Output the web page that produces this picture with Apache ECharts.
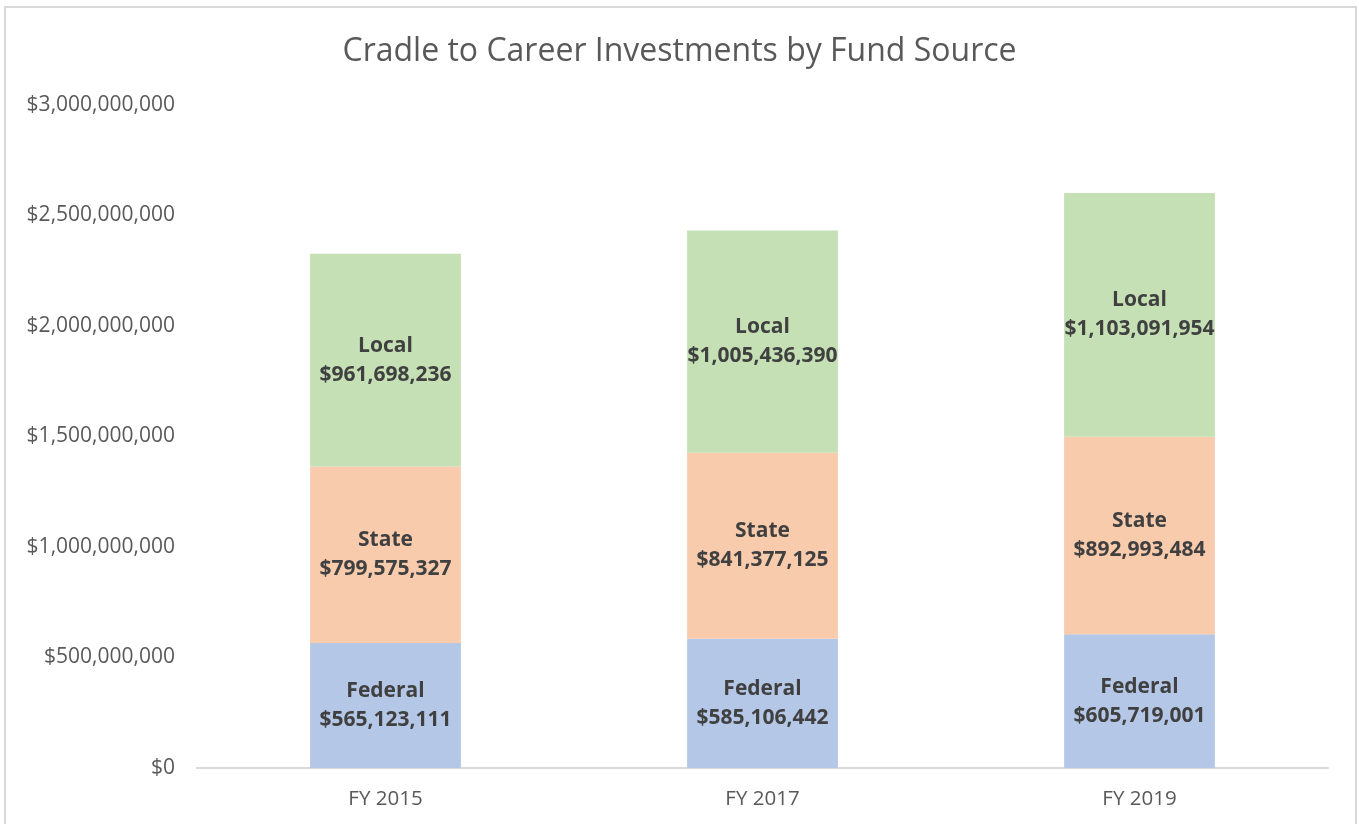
<!DOCTYPE html>
<html>
<head>
<meta charset="utf-8">
<script src="https://cdn.jsdelivr.net/npm/echarts@6/dist/echarts.min.js"></script>
<style>
  html, body { margin: 0; padding: 0; background: #fff; }
  #chart { width: 1359px; height: 824px; }
</style>
</head>
<body>
<div id="chart"></div>
<script>
const years = ["FY 2015", "FY 2017", "FY 2019"];
const federal = [565123111, 585106442, 605719001];
const state = [799575327, 841377125, 892993484];
const local = [961698236, 1005436390, 1103091954];

const FONT = "'Open Sans', 'Noto Sans', sans-serif";
const money = (v) => "$" + Math.round(v).toLocaleString("en-US");

const chart = echarts.init(document.getElementById("chart"));

const makeSeries = (name, data, color) => ({
  name: name,
  type: "bar",
  stack: "total",
  data: data,
  barCategoryGap: "60%",
  itemStyle: { color: color },
  label: {
    show: true,
    position: "inside",
    formatter: (p) => name + "\n" + money(p.value),
    color: "#404040",
    fontFamily: FONT,
    fontWeight: "bold",
    fontSize: 21,
    lineHeight: 29,
  },
});

chart.setOption({
  animation: false,
  title: {
    text: "Cradle to Career Investments by Fund Source",
    left: "center",
    top: 31,
    textStyle: {
      fontSize: 32,
      color: "#595959",
      fontWeight: "normal",
      fontFamily: FONT,
    },
  },
  graphic: [
    {
      type: "rect",
      shape: { x: 5, y: 7, width: 1351, height: 830 },
      style: { fill: "none", stroke: "#d9d9d9", lineWidth: 2 },
      silent: true,
    },
  ],
  grid: { left: 197, right: 31, top: 105, bottom: 56 },
  xAxis: {
    type: "category",
    data: years,
    axisLine: { lineStyle: { color: "#d9d9d9", width: 2 } },
    axisTick: { show: false },
    axisLabel: { color: "#595959", fontSize: 20.5, fontFamily: FONT, margin: 21 },
  },
  yAxis: {
    type: "value",
    min: 0,
    max: 3000000000,
    interval: 500000000,
    splitLine: { show: false },
    axisLine: { show: false },
    axisTick: { show: false },
    axisLabel: {
      color: "#595959",
      fontSize: 21,
      fontFamily: FONT,
      margin: 22,
      formatter: (v) => money(v),
    },
  },
  series: [
    makeSeries("Federal", federal, "#b4c7e7"),
    makeSeries("State", state, "#f8cbad"),
    makeSeries("Local", local, "#c5e0b4"),
  ],
});
</script>
</body>
</html>
